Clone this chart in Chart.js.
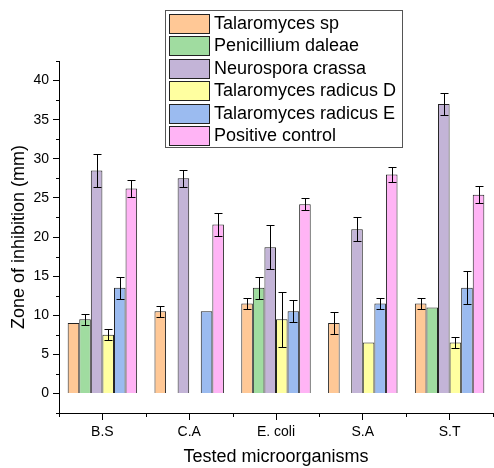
<!DOCTYPE html>
<html>
<head>
<meta charset="utf-8">
<script src="https://cdn.jsdelivr.net/npm/chart.js@4/dist/chart.umd.min.js"></script>
<style>
  html, body { margin: 0; padding: 0; background: #ffffff; }
  #wrap { width: 494px; height: 468px; }
</style>
</head>
<body>
<div id="wrap"><canvas id="chart" width="494" height="468"></canvas></div>
<script>
// Tested organisms along the x axis
const organisms = ['B.S', 'C.A', 'E. coli', 'S.A', 'S.T'];

// Series names (legend order)
const seriesNames = [
  'Talaromyces sp',
  'Penicillium daleae',
  'Neurospora crassa',
  'Talaromyces radicus D',
  'Talaromyces radicus E',
  'Positive control'
];

// Mean zone of inhibition (mm) per organism
const talaromycesSp      = [9.0, 10.5, 11.5, 9.0, 11.5];
const penicilliumDaleae  = [9.5, 0, 13.5, 0, 11.0];
const neurosporaCrassa   = [28.5, 27.5, 18.7, 21.0, 37.0];
const radicusD           = [7.5, 0, 9.5, 6.5, 6.5];
const radicusE           = [13.5, 10.5, 10.5, 11.5, 13.5];
const positiveControl    = [26.2, 21.6, 24.2, 28.0, 25.4];

// Standard deviations (mm)
const talaromycesSpErr     = [0, 0.7, 0.7, 1.4, 0.7];
const penicilliumDaleaeErr = [0.7, 0, 1.4, 0, 0];
const neurosporaCrassaErr  = [2.1, 1.1, 2.8, 1.5, 1.4];
const radicusDErr          = [0.7, 0, 3.5, 0, 0.7];
const radicusEErr          = [1.4, 0, 1.4, 0.7, 2.1];
const positiveControlErr   = [1.1, 1.5, 0.8, 1.0, 1.1];

// Y axis tick values
const yTickValues = [0, 5, 10, 15, 20, 25, 30, 35, 40];

const seriesValues = [talaromycesSp, penicilliumDaleae, neurosporaCrassa, radicusD, radicusE, positiveControl];
const seriesErrors = [talaromycesSpErr, penicilliumDaleaeErr, neurosporaCrassaErr, radicusDErr, radicusEErr, positiveControlErr];
const seriesColors = ['#FFC896', '#A0DCA0', '#C3B4D7', '#FFFFA0', '#9BBBF0', '#FFB4F5'];

const FONT = '"Liberation Sans", Arial, sans-serif';

// Symmetric error bars drawn from each bar's value through the scales
const errorBars = {
  id: 'errorBars',
  afterDatasetsDraw(chart) {
    const ctx = chart.ctx;
    const y = chart.scales.y;
    ctx.save();
    ctx.strokeStyle = '#000';
    ctx.lineWidth = 1;
    chart.data.datasets.forEach((ds, di) => {
      const meta = chart.getDatasetMeta(di);
      meta.data.forEach((bar, i) => {
        const err = ds.errors[i];
        const v = ds.data[i];
        if (!err || !v) return;
        const x = Math.round(bar.x) + 0.5;
        const yt = Math.round(y.getPixelForValue(v + err)) + 0.5;
        const yb = Math.round(y.getPixelForValue(v - err)) + 0.5;
        const cap = 4;
        ctx.beginPath();
        ctx.moveTo(x, yt); ctx.lineTo(x, yb);
        ctx.moveTo(x - cap, yt); ctx.lineTo(x + cap, yt);
        ctx.moveTo(x - cap, yb); ctx.lineTo(x + cap, yb);
        ctx.stroke();
      });
    });
    ctx.restore();
  }
};

// Minor tick marks on both axes
const minorTicks = {
  id: 'minorTicks',
  afterDraw(chart) {
    const ctx = chart.ctx;
    const x = chart.scales.x, y = chart.scales.y;
    const area = chart.chartArea;
    ctx.save();
    ctx.strokeStyle = '#000';
    ctx.lineWidth = 1;
    ctx.beginPath();
    for (let v = y.min; v <= y.max + 1e-6; v += 5) {
      const py = Math.round(y.getPixelForValue(v)) + 0.5;
      ctx.moveTo(area.left, py); ctx.lineTo(area.left - 3, py);
    }
    const half = (x.getPixelForValue(1) - x.getPixelForValue(0)) / 2;
    for (let i = 0; i <= organisms.length; i++) {
      const px = Math.round(x.getPixelForValue(i) - half) + 0.5;
      ctx.moveTo(px, area.bottom); ctx.lineTo(px, area.bottom + 4);
    }
    ctx.stroke();
    ctx.restore();
  }
};

// Boxed legend inside the plot
const boxLegend = {
  id: 'boxLegend',
  afterDraw(chart) {
    const ctx = chart.ctx;
    const left = 165.5, top = 10.5, w = 237, h = 137;
    ctx.save();
    ctx.fillStyle = '#fff';
    ctx.fillRect(left, top, w, h);
    ctx.strokeStyle = '#555';
    ctx.lineWidth = 1;
    ctx.strokeRect(left, top, w, h);
    ctx.font = '18px ' + FONT;
    ctx.textBaseline = 'middle';
    ctx.textAlign = 'left';
    chart.data.datasets.forEach((ds, i) => {
      const sy = 13.5 + i * 22.5;
      const ry = Math.round(sy) + 0.5;
      ctx.fillStyle = ds.backgroundColor;
      ctx.fillRect(169.5, ry, 40, 19);
      ctx.strokeStyle = '#222';
      ctx.strokeRect(169.5, ry, 40, 19);
      ctx.fillStyle = '#000';
      ctx.fillText(ds.label, 214, ry + 10);
    });
    ctx.restore();
  }
};

new Chart(document.getElementById('chart'), {
  type: 'bar',
  data: {
    labels: organisms,
    datasets: seriesNames.map((name, i) => ({
      label: name,
      data: seriesValues[i],
      errors: seriesErrors[i],
      backgroundColor: seriesColors[i],
      borderColor: '#222',
      borderWidth: 1,
      borderSkipped: 'bottom',
      categoryPercentage: 0.8,
      barPercentage: 1.0
    }))
  },
  options: {
    responsive: false,
    animation: false,
    devicePixelRatio: 1,
    layout: { padding: { top: 61, right: 1, left: 0, bottom: 0 } },
    plugins: {
      legend: { display: false },
      tooltip: { enabled: false }
    },
    scales: {
      x: {
        type: 'category',
        offset: true,
        grid: { display: true, drawOnChartArea: false, drawTicks: true, tickLength: 7, color: '#000', offset: false },
        border: { display: true, color: '#000', width: 1 },
        ticks: { color: '#000', font: { family: FONT, size: 14 }, padding: 4, maxRotation: 0 },
        title: { display: true, text: 'Tested microorganisms', color: '#000', font: { family: FONT, size: 18 }, padding: { top: 0, bottom: 0 } },
        afterFit(scale) { scale.height = 55; }
      },
      y: {
        min: -2.5,
        max: 42.5,
        afterBuildTicks(scale) { scale.ticks = yTickValues.map(v => ({ value: v })); },
        grid: { display: true, drawOnChartArea: false, drawTicks: true, tickLength: 6, color: '#000' },
        border: { display: true, color: '#000', width: 1 },
        ticks: { color: '#000', font: { family: FONT, size: 14 }, padding: 4 },
        title: { display: true, text: 'Zone of inhibition (mm)', color: '#000', font: { family: FONT, size: 18 }, padding: { top: 8, bottom: 0 } },
        afterFit(scale) { scale.width = 59; }
      }
    }
  },
  plugins: [errorBars, minorTicks, boxLegend]
});
</script>
</body>
</html>
